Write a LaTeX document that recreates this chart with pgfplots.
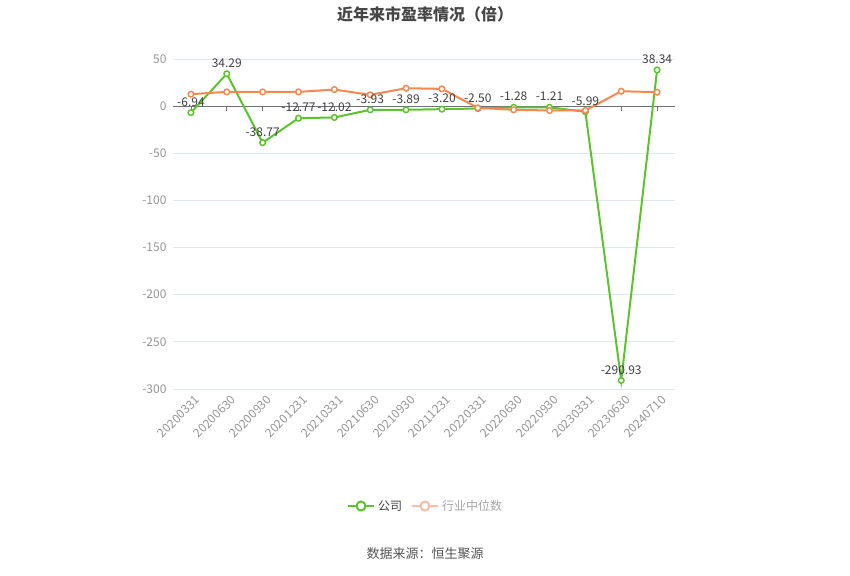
\documentclass[border=0pt]{standalone}
\usepackage{fontspec}
\setmainfont{Noto Sans CJK SC}
\usepackage{pgfplots}
\pgfplotsset{compat=1.18}
\definecolor{cgreen}{HTML}{5BC42C}
\definecolor{corange}{HTML}{F5884F}
\definecolor{corangelight}{HTML}{F9BDA3}
\definecolor{gridc}{HTML}{E0E6F1}
\definecolor{axisc}{HTML}{6E7079}
\definecolor{labc}{HTML}{959595}
\definecolor{datac}{HTML}{404040}
\definecolor{titlec}{HTML}{464646}
\begin{document}
\begin{tikzpicture}
\path (0pt,0pt) rectangle (850pt,575pt);
\begin{axis}[at={(173pt,186pt)}, anchor=south west, scale only axis,
  width=502pt, height=330pt,
  xmin=-0.5, xmax=13.5, ymin=-300, ymax=50,
  axis line style={draw=none},
  ytick={-300,-250,...,50},
  ymajorgrids, grid style={gridc, line width=0.8pt},
  xtick={0,...,13},
  xticklabels={20200331,20200630,20200930,20201231,20210331,20210630,20210930,20211231,20220331,20220630,20220930,20230331,20230630,20240710},
  major tick length=0pt,
  x tick label style={rotate=45, anchor=north east, font=\fontsize{12}{14}\selectfont, text=labc, yshift=-3pt, xshift=2pt},
  y tick label style={font=\fontsize{12}{14}\selectfont, text=labc, xshift=-3pt},
  /pgf/number format/assume math mode=true,
  clip=false,
]
\draw[axisc, line width=0.9pt] (axis cs:-0.5,0) -- (axis cs:13.5,0);
\pgfplotsinvokeforeach{0,...,13}{\draw[axisc, line width=0.8pt] (axis cs:#1,0) -- ++(0pt,-5pt);}
\addplot[cgreen, line width=2pt, mark=*, mark size=2.8pt,
  mark options={fill=white, draw=cgreen, line width=1.5pt}]
  coordinates {(0,-6.94) (1,34.29) (2,-38.77) (3,-12.77) (4,-12.02) (5,-3.93) (6,-3.89) (7,-3.20) (8,-2.50) (9,-1.28) (10,-1.21) (11,-5.99) (12,-290.93) (13,38.34)};
\addplot[corange, line width=2pt, mark=*, mark size=2.8pt,
  mark options={fill=white, draw=corange, line width=1.5pt}]
  coordinates {(0,12.7) (1,15.1) (2,15.1) (3,15.1) (4,17.6) (5,12.0) (6,19.0) (7,18.3) (8,-1.8) (9,-3.9) (10,-4.6) (11,-4.6) (12,15.8) (13,14.8)};
\addplot[draw=none, mark=none, nodes near coords, point meta=explicit symbolic,
  every node near coord/.style={text=datac, font=\fontsize{12}{14}\selectfont, anchor=south, yshift=4pt, inner sep=2pt}]
  coordinates {(0,-6.94)[-6.94] (1,34.29)[34.29] (2,-38.77)[-38.77] (3,-12.77)[-12.77] (4,-12.02)[-12.02] (5,-3.93)[-3.93] (6,-3.89)[-3.89] (7,-3.20)[-3.20] (8,-2.50)[-2.50] (9,-1.28)[-1.28] (10,-1.21)[-1.21] (11,-5.99)[-5.99] (12,-290.93)[-290.93] (13,38.34)[38.34]};
\end{axis}
\node[font=\fontsize{16}{19}\selectfont\bfseries, text=titlec] at (425pt,561pt) {近年来市盈率情况（倍）};
% legend
\draw[cgreen, line width=2pt] (348pt,69pt) -- (374pt,69pt);
\draw[cgreen, line width=2pt, fill=white] (361pt,69pt) circle (4.5pt);
\node[anchor=west, font=\fontsize{12}{14}\selectfont, text=datac, inner sep=0pt] at (378pt,69pt) {公司};
\draw[corangelight, line width=2pt] (412pt,69pt) -- (438pt,69pt);
\draw[corangelight, line width=2pt, fill=white] (425pt,69pt) circle (4.5pt);
\node[anchor=west, font=\fontsize{12}{14}\selectfont, text=labc!85, inner sep=0pt] at (442pt,69pt) {行业中位数};
\node[font=\fontsize{13}{15}\selectfont, text=datac!90] at (425pt,21pt) {数据来源：恒生聚源};
\end{tikzpicture}
\end{document}
